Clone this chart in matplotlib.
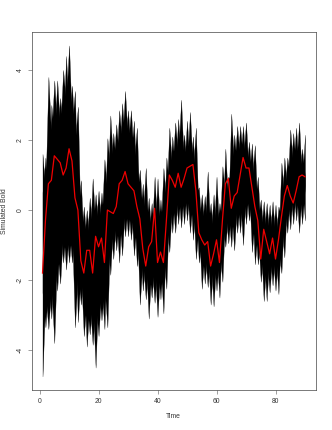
import numpy as np
import matplotlib
matplotlib.use("Agg")
import matplotlib.pyplot as plt

plt.rcParams['font.family'] = ['Liberation Sans', 'DejaVu Sans']

# highest trace at every time step
upper = [1.6, 1.5, 3.8, 3.0, 3.7, 3.7, 3.2, 4.0, 4.4, 4.7,
         3.55, 3.4, 2.95, 0.85, 0.1, 0.0, 0.35, 0.9, 0.45, 0.55,
         0.5, 1.45, 2.05, 2.7, 2.2, 2.45, 2.85, 3.05, 3.4, 2.85,
         2.85, 2.55, 2.35, 1.15, 0.75, 1.2, 0.35, 0.2, 0.95, 0.9,
         0.3, 1.2, 1.5, 2.35, 2.1, 2.5, 2.6, 3.15, 2.15, 2.55,
         2.8, 2.1, 2.35, 0.65, 0.45, 0.4, 1.1, 0.2, 0.45, 0.95,
         0.2, 1.25, 1.75, 0.95, 2.75, 2.15, 2.4, 2.4, 2.4, 2.5,
         1.95, 1.9, 1.85, 0.95, 0.3, 0.25, 0.2, 0.15, 0.25, 0.15,
         0.1, 1.35, 1.5, 1.5, 2.3, 2.2, 2.35, 2.5, 1.75, 2.15]

# lowest trace at every time step
lower = [-4.75, -3.35, -3.4, -3.1, -3.8, -2.3, -2.1, -1.5, -1.7, -1.5,
         -1.5, -3.35, -3.2, -2.7, -3.6, -3.9, -3.55, -3.85, -4.5, -3.6,
         -3.15, -3.4, -3.35, -1.85, -1.4, -1.15, -1.5, -1.3, -0.75, -0.75,
         -0.85, -1.3, -1.6, -2.7, -2.3, -2.55, -3.1, -2.5, -2.65, -3.05,
         -2.55, -2.95, -2.25, -1.2, -0.65, -0.65, -0.4, -0.5, -0.4, -0.3,
         -0.65, -0.85, -1.4, -1.5, -2.25, -2.1, -2.2, -2.7, -2.75, -2.3,
         -2.5, -2.05, -1.05, -0.95, -1.05, -1.15, -0.65, -0.65, -1.0, -0.4,
         -0.3, -1.2, -1.55, -1.55, -2.05, -2.6, -2.6, -2.35, -2.15, -2.3,
         -2.4, -1.8, -1.35, -0.65, -0.55, -0.4, -0.3, -0.65, -0.4, -0.3]

# the red line
mean_bold = [-1.8, -0.3, 0.75, 0.85, 1.55, 1.45, 1.35, 1.0, 1.2, 1.75,
             1.4, 0.35, 0.0, -1.45, -1.8, -1.15, -1.15, -1.8, -0.75, -1.05,
             -0.8, -1.5, 0.0, -0.05, -0.1, 0.1, 0.75, 0.85, 1.1, 0.75,
             0.65, 0.55, 0.1, -0.25, -1.1, -1.6, -1.05, -0.9, 0.05, -1.5,
             -1.2, -1.5, -0.3, 1.0, 0.85, 0.65, 1.05, 0.65, 0.9, 1.2,
             1.25, 1.3, 0.55, -0.65, -0.85, -1.0, -0.9, -1.6, -1.25, -0.85,
             -1.5, -0.3, 0.75, 0.9, 0.05, 0.4, 0.5, 1.0, 1.5, 1.2,
             1.2, 0.65, 0.1, -0.3, -1.4, -0.55, -0.9, -1.25, -0.8, -1.4,
             -0.85, -0.2, 0.4, 0.7, 0.4, 0.2, 0.55, 0.95, 1.0, 0.95]

x_ticks = [0, 20, 40, 60, 80]
y_ticks = [-4, -2, 0, 2, 4]

time = np.arange(1, len(upper) + 1)
hi = np.array(upper)
lo = np.array(lower)

W, H = 332, 430
fig = plt.figure(figsize=(W / 100, H / 100), dpi=100)
ax = fig.add_axes([32 / W, 1 - 390 / H, (315.5 - 32) / W, (390 - 32.5) / H])

# inner edge of the band: where the spikes start
top = np.array([hi[max(i - 1, 0):i + 2].min() for i in range(len(hi))]) - 1.0
bottom = np.array([lo[max(i - 1, 0):i + 2].max() for i in range(len(lo))]) + 1.0
mid = (hi + lo) / 2
top = np.maximum(top, mid)
bottom = np.minimum(bottom, mid)

# every step peaks at its edge value and drops back to the inner edge next to it
for parity in (0, 1):
    peak = time % 2 == parity
    ax.fill_between(time, np.where(peak, lo, bottom), np.where(peak, hi, top),
                    color='black', lw=0.2)

ax.plot(time, mean_bold, color='#f00000', lw=0.9)

ax.set_xlim(-2.56, 93.56)
ax.set_ylim(-5.14, 5.07)
ax.set_xticks(x_ticks)
ax.set_yticks(y_ticks)
ax.set_xticklabels([str(v) for v in x_ticks], fontsize=4.9, color='#333333')
ax.set_yticklabels([str(v) for v in y_ticks], fontsize=4.9,
                   color='#333333', rotation=90, va='center')
ax.tick_params(length=3, width=0.4, color='#555555', pad=3)
for s in ax.spines.values():
    s.set_linewidth(0.5)
    s.set_color('#444444')

fig.text(173.5 / W, 1 - 417 / H, "Time", fontsize=4.9, color='#333333',
         ha='center', va='center')
fig.text(5 / W, 1 - 211 / H, "Simulated Bold", fontsize=4.9, color='#333333',
         ha='center', va='center', rotation=90)

fig.savefig("out.png", dpi=100)
